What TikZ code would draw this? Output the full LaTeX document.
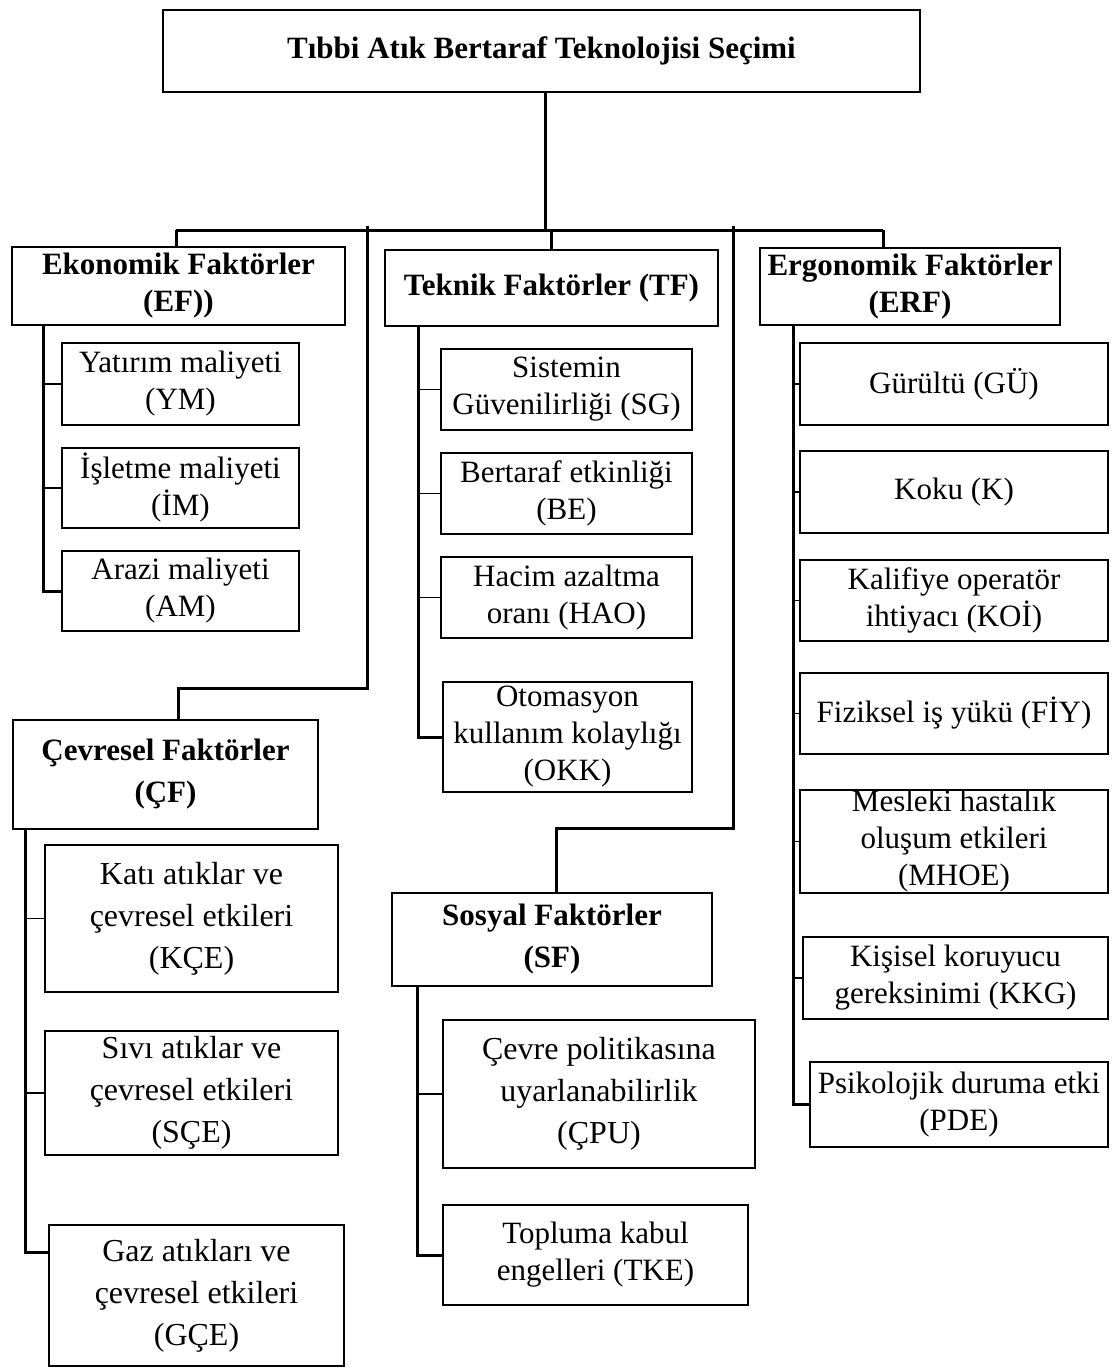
\documentclass[tikz,border=0pt]{standalone}
\usepackage{fontspec}
\setmainfont{Liberation Serif}

\begin{document}
\begin{tikzpicture}[x=1pt,y=-1pt,
   box/.style={draw,line width=1.2pt,inner sep=0pt,align=center,font=\fontsize{31}{37}\selectfont},
   head/.style={box,font=\fontsize{31}{37}\selectfont\bfseries},
   headwide/.style={box,font=\fontsize{31}{42}\selectfont\bfseries},
   wide/.style={box,font=\fontsize{32}{42}\selectfont},
   trunk/.style={line width=3pt},
   tick/.style={line width=1.2pt}]
   \useasboundingbox (0,0) rectangle (1112,1368);

   % root
   \node[head,minimum width=757pt,minimum height=82pt] (top) at (541.5,51) {Tıbbi Atık Bertaraf Teknolojisi Seçimi};

   % main factors
   \node[head,minimum width=333pt,minimum height=78pt] (ef) at (178.5,286) {Ekonomik Faktörler\\(EF))};
   \node[head,minimum width=333pt,minimum height=76pt] (tf) at (551.5,288) {Teknik Faktörler (TF)};
   \node[head,minimum width=300pt,minimum height=77pt] (erf) at (910,286.5) {Ergonomik Faktörler\\(ERF)};
   \node[headwide,minimum width=305pt,minimum height=109pt] (cf) at (165.5,774.5) {Çevresel Faktörler\\(ÇF)};
   \node[headwide,minimum width=320pt,minimum height=93pt] (sf) at (552,939.5) {Sosyal Faktörler\\(SF)};

   % EF
   \node[box,minimum width=237pt,minimum height=82pt] (ym) at (180.5,384) {Yatırım maliyeti\\(YM)};
   \node[box,minimum width=237pt,minimum height=80pt] (im) at (180.5,488) {İşletme maliyeti\\(İM)};
   \node[box,minimum width=237pt,minimum height=80pt] (am) at (180.5,591) {Arazi maliyeti\\(AM)};

   % TF
   \node[box,minimum width=251pt,minimum height=81pt] (sg) at (566.5,389.5) {Sistemin\\Güvenilirliği (SG)};
   \node[box,minimum width=251pt,minimum height=81pt] (be) at (566.5,493.5) {Bertaraf etkinliği\\(BE)};
   \node[box,minimum width=251pt,minimum height=81pt] (hao) at (566.5,597.5) {Hacim azaltma\\oranı (HAO)};
   \node[box,minimum width=249pt,minimum height=110pt] (okk) at (567.5,737) {Otomasyon\\kullanım kolaylığı\\(OKK)};

   % ERF
   \node[box,minimum width=308pt,minimum height=82pt] (gu) at (954,384) {Gürültü (GÜ)};
   \node[box,minimum width=308pt,minimum height=82pt] (k) at (954,492) {Koku (K)};
   \node[box,minimum width=308pt,minimum height=81pt] (koi) at (954,600.5) {Kalifiye operatör\\ihtiyacı (KOİ)};
   \node[box,minimum width=308pt,minimum height=81pt] (fiy) at (954,713.5) {Fiziksel iş yükü (FİY)};
   \node[box,minimum width=308pt,minimum height=103pt] (mhoe) at (954,841.5) {Mesleki hastalık\\oluşum etkileri\\(MHOE)};
   \node[box,minimum width=305pt,minimum height=82pt] (kkg) at (955.5,978) {Kişisel koruyucu\\gereksinimi (KKG)};
   \node[box,minimum width=298pt,minimum height=85pt] (pde) at (959,1104.5) {Psikolojik duruma etki\\(PDE)};

   % CF
   \node[wide,minimum width=293pt,minimum height=147pt] (kce) at (191.5,918.5) {Katı atıklar ve\\çevresel etkileri\\(KÇE)};
   \node[wide,minimum width=293pt,minimum height=124pt] (sce) at (191.5,1093) {Sıvı atıklar ve\\çevresel etkileri\\(SÇE)};
   \node[wide,minimum width=295pt,minimum height=141pt] (gce) at (196.5,1295.5) {Gaz atıkları ve\\çevresel etkileri\\(GÇE)};

   % SF
   \node[wide,minimum width=312pt,minimum height=148pt] (cpu) at (599,1094) {Çevre politikasına\\uyarlanabilirlik\\(ÇPU)};
   \node[box,minimum width=305pt,minimum height=100pt] (tke) at (595.5,1255) {Topluma kabul\\engelleri (TKE)};

   % bus
   \coordinate (busL) at (176,230);
   \coordinate (busR) at (883,230);
   \coordinate (cfj) at (367,226);
   \coordinate (sfj) at (733,226);

   \draw[trunk] (top.south -| 545,0) -- (545,230);
   \draw[trunk] (busL) -- (busR);
   \draw[trunk] (busL) -- (busL |- ef.north);
   \draw[trunk] (tf.north) -- (tf.north |- busL);
   \draw[trunk] (busR) -- (busR |- erf.north);
   \draw[trunk] (cfj) -- ++(0,462) -| ([xshift=12.5pt]cf.north);
   \draw[trunk] (sfj) -- ++(0,602) -| ([xshift=4pt]sf.north);

   % spines
   \draw[trunk] ([xshift=-135.5pt]ef.south) |- (am.west);
   \draw[tick] (ym.west) -- ++(-19,0);
   \draw[tick] (im.west) -- ++(-19,0);

   \draw[trunk] ([xshift=-133.5pt]tf.south) |- (okk.west);
   \draw[tick] (sg.west) -- ++(-23,0);
   \draw[tick] (be.west) -- ++(-23,0);
   \draw[tick] (hao.west) -- ++(-23,0);

   \draw[trunk] ([xshift=-117pt]erf.south) |- (pde.west);
   \draw[tick] (gu.west) -- ++(-7,0);
   \draw[tick] (k.west) -- ++(-7,0);
   \draw[tick] (koi.west) -- ++(-7,0);
   \draw[tick] (fiy.west) -- ++(-7,0);
   \draw[tick] (mhoe.west) -- ++(-7,0);
   \draw[tick] (kkg.west) -- ++(-10,0);

   \draw[trunk] ([xshift=-140.5pt]cf.south) |- ([yshift=43pt]gce.west);
   \draw[tick] (kce.west) -- ++(-20,0);
   \draw[tick] (sce.west) -- ++(-20,0);

   \draw[trunk] ([xshift=-135pt]sf.south) |- (tke.west);
   \draw[tick] (cpu.west) -- ++(-26,0);
\end{tikzpicture}
\end{document}
